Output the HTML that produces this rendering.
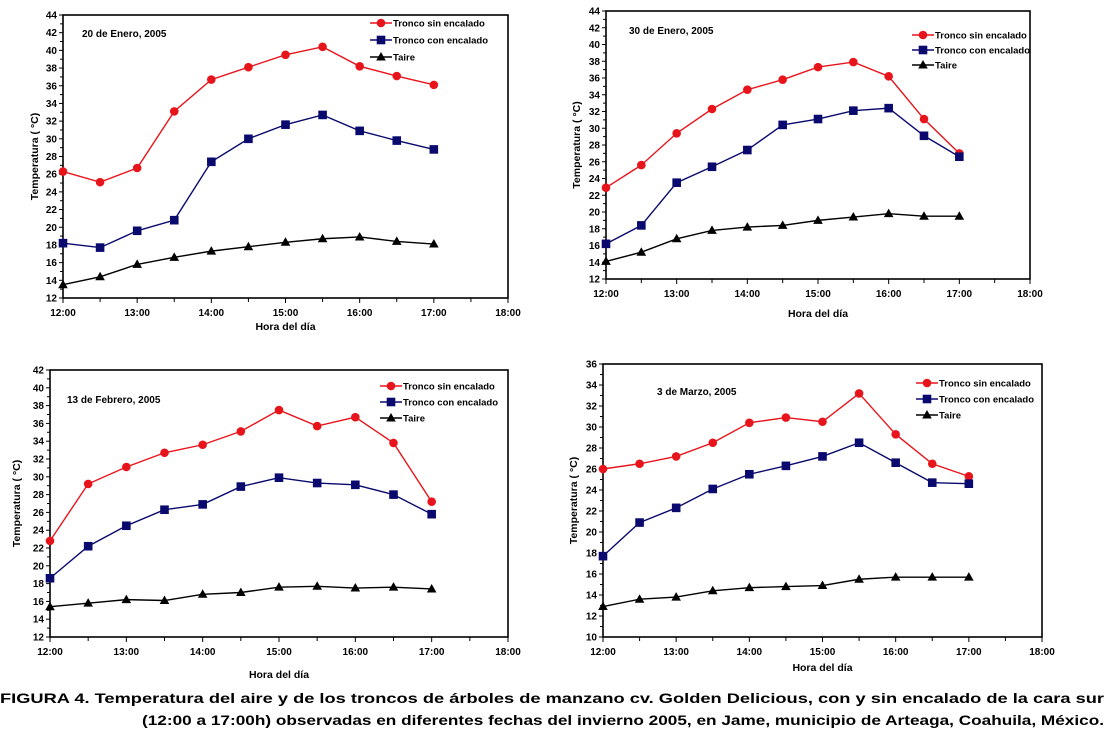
<!DOCTYPE html>
<html><head><meta charset="utf-8"><style>
html,body{margin:0;padding:0;background:#fff;}
svg{display:block;font-family:"Liberation Sans",Arial,sans-serif;}
</style></head><body>
<svg id="s" width="1106" height="735" viewBox="0 0 1106 735">
<text x="0" y="703" font-size="14" font-weight="bold" textLength="1104" lengthAdjust="spacingAndGlyphs">FIGURA 4. Temperatura del aire y de los troncos de árboles de manzano cv. Golden Delicious, con y sin encalado de la cara sur</text>
<text x="142" y="725" font-size="14" font-weight="bold" textLength="962" lengthAdjust="spacingAndGlyphs">(12:00 a 17:00h) observadas en diferentes fechas del invierno 2005, en Jame, municipio de Arteaga, Coahuila, México.</text>
</svg>
<script>
const hours = [12,12.5,13,13.5,14,14.5,15,15.5,16,16.5,17];
const xTickLabels = ["12:00","13:00","14:00","15:00","16:00","17:00","18:00"];
const seriesNames = ["Tronco sin encalado","Tronco con encalado","Taire"];
const p1Red = [26.3,25.1,26.7,33.1,36.7,38.1,39.5,40.4,38.2,37.1,36.1];
const p1Blue = [18.2,17.7,19.6,20.8,27.4,30.0,31.6,32.7,30.9,29.8,28.8];
const p1Black = [13.5,14.4,15.8,16.6,17.3,17.8,18.3,18.7,18.9,18.4,18.1];
const p2Red = [22.9,25.6,29.4,32.3,34.6,35.8,37.3,37.9,36.2,31.1,27.0];
const p2Blue = [16.2,18.4,23.5,25.4,27.4,30.4,31.1,32.1,32.4,29.1,26.6];
const p2Black = [14.1,15.2,16.8,17.8,18.2,18.4,19.0,19.4,19.8,19.5,19.5];
const p3Red = [22.8,29.2,31.1,32.7,33.6,35.1,37.5,35.7,36.7,33.8,27.2];
const p3Blue = [18.6,22.2,24.5,26.3,26.9,28.9,29.9,29.3,29.1,28.0,25.8];
const p3Black = [15.4,15.8,16.2,16.1,16.8,17.0,17.6,17.7,17.5,17.6,17.4];
const p4Red = [26.0,26.5,27.2,28.5,30.4,30.9,30.5,33.2,29.3,26.5,25.3];
const p4Blue = [17.7,20.9,22.3,24.1,25.5,26.3,27.2,28.5,26.6,24.7,24.6];
const p4Black = [12.9,13.6,13.8,14.4,14.7,14.8,14.9,15.5,15.7,15.7,15.7];
const dates = ["20 de Enero, 2005","30 de Enero, 2005","13 de Febrero, 2005","3 de Marzo, 2005"];

const panels = [
 {L:63,R:508,T:15,B:298,ymin:12,ymax:44,data:[p1Red,p1Blue,p1Black],yt:38,xt:330,date:[82,37],leg:[370,23,17]},
 {L:606,R:1030,T:11,B:279,ymin:12,ymax:44,data:[p2Red,p2Blue,p2Black],yt:580,xt:317,date:[629,34],leg:[912,35,15]},
 {L:50,R:508,T:370,B:637,ymin:12,ymax:42,data:[p3Red,p3Blue,p3Black],yt:20,xt:678,date:[67,403],leg:[380,386,16]},
 {L:603,R:1042,T:364,B:637,ymin:10,ymax:36,data:[p4Red,p4Blue,p4Black],yt:577,xt:671,date:[657,395],leg:[916,383,16]}
];
const colors = ["#e8141b","#0a0a6e","#000"];
const s = document.getElementById('s');
const NS = "http://www.w3.org/2000/svg";
function mk(tag, attrs, parent){const e=document.createElementNS(NS,tag);for(const k in attrs)e.setAttribute(k,attrs[k]);(parent||s).appendChild(e);return e;}
function marker(g,k,x,y){
  let e;
  if(k===0) e=mk('circle',{cx:x,cy:y,r:4.3,fill:colors[0]},g);
  else if(k===1) e=mk('rect',{x:x-4.3,y:y-4.3,width:8.6,height:8.6,fill:colors[1]},g);
  else e=mk('polygon',{points:`${x},${y-5} ${x-4.8},${y+3.5} ${x+4.8},${y+3.5}`,fill:'#000'},g);
  return e;
}
panels.forEach((p,pi)=>{
  const g = mk('g',{});
  
  
  const xs = h => p.L + (h-12)/6*(p.R-p.L);
  const ys = v => p.B - (v-p.ymin)/(p.ymax-p.ymin)*(p.B-p.T);
  const fr = mk('rect',{x:p.L,y:p.T,width:p.R-p.L,height:p.B-p.T,fill:'none',stroke:'#000','stroke-width':1.6},g);
  
  
  for(let v=p.ymin; v<=p.ymax; v++){
    const major = (v-p.ymin)%2===0;
    mk('line',{x1:p.L-(major?4:3),x2:p.L,y1:ys(v),y2:ys(v),stroke:'#000','stroke-width':1},g);
    if(major){
      const t = mk('text',{x:p.L-6,y:ys(v)+3.5,'font-size':10,'font-weight':'bold','text-anchor':'end'},g);
      t.textContent = v;
      
      
    }
  }
  for(let h=12; h<=18; h+=0.5){
    mk('line',{x1:xs(h),x2:xs(h),y1:p.B,y2:p.B+(h%1===0?5:4),stroke:'#000','stroke-width':1},g);
  }
  xTickLabels.forEach((lab,i)=>{
    const t = mk('text',{x:xs(12+i),y:p.B+18,'font-size':10,'font-weight':'bold','text-anchor':'middle'},g);
    t.textContent = lab;
    
    
  });
  const xt = mk('text',{x:(p.L+p.R)/2,y:p.xt,'font-size':10.5,'font-weight':'bold','text-anchor':'middle'},g);
  xt.textContent = 'Hora del día';
  
  
  const yc = (p.T+p.B)/2;
  const yt = mk('text',{x:p.yt,y:yc,'font-size':10.5,'font-weight':'bold','text-anchor':'middle',transform:`rotate(-90 ${p.yt} ${yc})`},g);
  yt.textContent = 'Temperatura ( °C)';
  
  
  const dt = mk('text',{x:p.date[0],y:p.date[1],'font-size':10,'font-weight':'bold'},g);
  dt.textContent = dates[pi];
  
  
  p.data.forEach((arr,k)=>{
    const pts = arr.map((v,i)=>xs(hours[i])+','+ys(v)).join(' ');
    const pl = mk('polyline',{points:pts,fill:'none',stroke:colors[k],'stroke-width':1.4},g);
    
    
    arr.forEach((v,i)=>{
      const m = marker(g,k,xs(hours[i]),ys(v));
      
      
    });
    const ly = p.leg[1] + k*p.leg[2];
    mk('line',{x1:p.leg[0],x2:p.leg[0]+22,y1:ly,y2:ly,stroke:colors[k],'stroke-width':1.6},g);
    const lm = marker(g,k,p.leg[0]+11,ly);
    
    
    const lt = mk('text',{x:p.leg[0]+23,y:ly+3.5,'font-size':9.5,'font-weight':'bold'},g);
    lt.textContent = seriesNames[k];
    
    
  });
});
</script>
</body></html>
